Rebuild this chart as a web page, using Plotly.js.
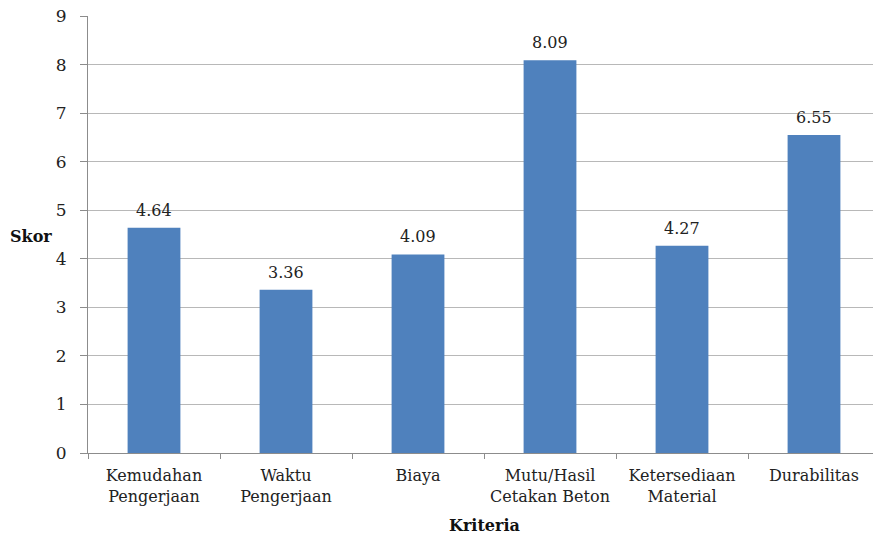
<!DOCTYPE html>
<html>
<head>
<meta charset="utf-8">
<script src="https://cdn.plot.ly/plotly-3.0.1.min.js"></script>
<style>
  html, body { margin: 0; padding: 0; overflow: hidden; background: #fff; }
  #chart { width: 882px; height: 534px; }
</style>
</head>
<body>
<div id="chart"></div>
<script>
// Skor per kriteria
const categories = [
  'Kemudahan<br>Pengerjaan',
  'Waktu<br>Pengerjaan',
  'Biaya',
  'Mutu/Hasil<br>Cetakan Beton',
  'Ketersediaan<br>Material',
  'Durabilitas'
];
const scores = [4.64, 3.36, 4.09, 8.09, 4.27, 6.55];
const yTicks = [0, 1, 2, 3, 4, 5, 6, 7, 8, 9];

const serif = 'DejaVu Serif';
const barColor = '#4f81bd';
const textSize = 16;

const trace = {
  type: 'bar',
  x: categories,
  y: scores,
  marker: { color: barColor, line: { width: 0 } },
  hoverinfo: 'skip'
};

// value labels above each bar
const valueLabels = categories.map((c, i) => ({
  x: c, y: scores[i], xref: 'x', yref: 'y',
  text: scores[i].toFixed(2),
  showarrow: false, yanchor: 'bottom', yshift: 6,
  font: { family: serif, size: textSize, color: '#222' }
}));

const layout = {
  width: 882, height: 534,
  margin: { l: 88, r: 2, t: 16, b: 81 },
  paper_bgcolor: '#fff', plot_bgcolor: '#fff',
  bargap: 0.6,
  showlegend: false,
  font: { family: serif, size: textSize, color: '#222' },
  xaxis: {
    type: 'category',
    range: [-0.5, 5.5],
    automargin: false,
    tickangle: 0,
    ticklabelstandoff: 8,
    showline: true, linecolor: '#8c8c8c', linewidth: 1,
    ticks: 'outside', tickson: 'boundaries', ticklen: 5, tickcolor: '#8c8c8c',
    showgrid: false,
    tickfont: { family: serif, size: textSize, color: '#222' }
  },
  yaxis: {
    range: [0, 9],
    automargin: false,
    tickvals: yTicks,
    ticktext: yTicks.map(String),
    showline: true, linecolor: '#8c8c8c', linewidth: 1,
    ticks: 'outside', ticklen: 7, tickcolor: '#8c8c8c',
    ticklabelstandoff: 10,
    showgrid: true, gridcolor: '#b8b8b8', gridwidth: 1,
    zeroline: false,
    tickfont: { family: serif, size: textSize + 1, color: '#222' }
  },
  annotations: valueLabels.concat([
    {
      text: '<b>Skor</b>', xref: 'paper', yref: 'paper',
      x: 0, y: 0.496, xanchor: 'center', yanchor: 'middle', xshift: -57,
      showarrow: false, font: { family: serif, size: textSize, color: '#111' }
    },
    {
      text: '<b>Kriteria</b>', xref: 'paper', yref: 'paper',
      x: 0.5, y: 0, xanchor: 'center', yanchor: 'middle', yshift: -72,
      showarrow: false, font: { family: serif, size: textSize, color: '#111' }
    }
  ])
};

Plotly.newPlot('chart', [trace], layout, { displayModeBar: false, staticPlot: true });
</script>
</body>
</html>
